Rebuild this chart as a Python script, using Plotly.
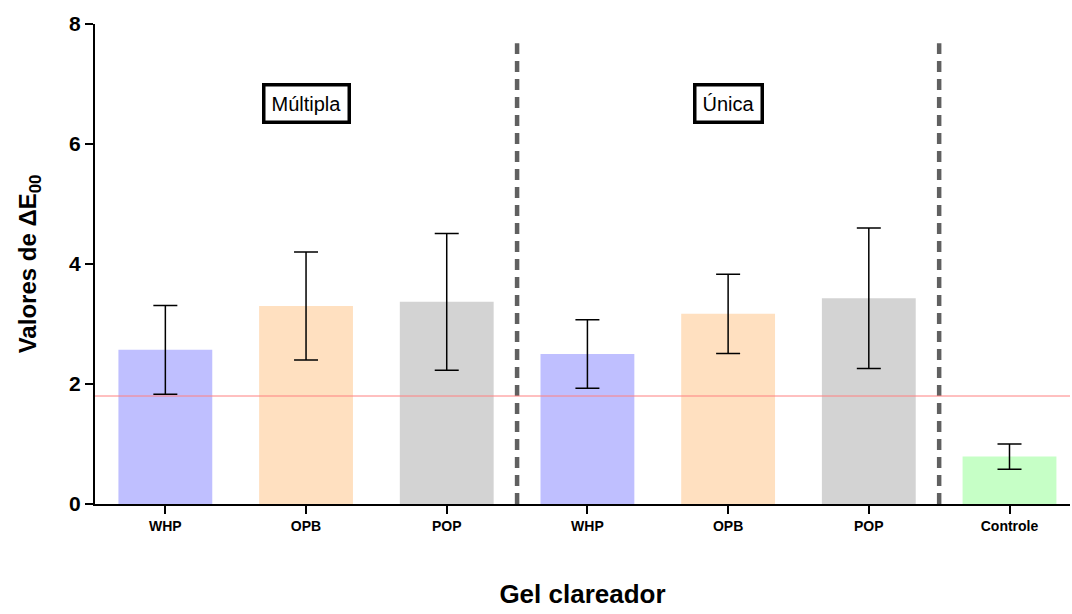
import plotly.graph_objects as go

categories = ["WHP", "OPB", "POP", "WHP ", "OPB ", "POP ", "Controle"]
tick_labels = ["WHP", "OPB", "POP", "WHP", "OPB", "POP", "Controle"]
means = [2.57, 3.30, 3.37, 2.50, 3.17, 3.43, 0.79]
sds = [0.74, 0.90, 1.14, 0.57, 0.66, 1.17, 0.21]
colors = ["#BFBFFF", "#FFE0C0", "#D3D3D3", "#BFBFFF", "#FFE0C0", "#D3D3D3", "#C6FFC6"]
threshold = 1.8
separators = [2.5, 5.5]
group_labels = ["Múltipla", "Única"]
group_centers = [1, 4]

xs = list(range(len(categories)))

fig = go.Figure()
fig.add_trace(go.Bar(
    x=xs, y=means, width=0.667,
    marker=dict(color=colors, line=dict(width=0)),
    error_y=dict(type="data", array=sds, visible=True, color="black", thickness=1.5, width=12),
    showlegend=False,
))

shapes = []
for s in separators:
    shapes.append(dict(type="line", xref="x", yref="y", x0=s, x1=s, y0=0, y1=7.68,
                       line=dict(color="#606060", width=4.5, dash="11px,7px"), layer="above"))
shapes.append(dict(type="line", xref="paper", yref="y", x0=0, x1=1, y0=threshold, y1=threshold,
                   line=dict(color="#FF8080", width=1), layer="above"))

annotations = []
for lab, c in zip(group_labels, group_centers):
    annotations.append(dict(x=c, y=6.67, xref="x", yref="y", text=lab, showarrow=False,
                            font=dict(family="Liberation Sans, Arial", size=20, color="black"),
                            bordercolor="black", borderwidth=3.5, borderpad=6, bgcolor="white"))

fig.update_layout(
    width=1072, height=614,
    margin=dict(l=95, r=2, t=24, b=110),
    paper_bgcolor="white", plot_bgcolor="white",
    font=dict(family="Liberation Sans, Arial", color="black"),
    shapes=shapes, annotations=annotations,
    xaxis=dict(
        range=[-0.5, 6.43], tickmode="array", tickvals=xs, ticktext=tick_labels,
        tickfont=dict(size=14, weight="bold"),
        showline=True, linecolor="black", linewidth=2, ticks="outside", ticklen=8, tickwidth=2,
        tickcolor="black", showgrid=False, zeroline=False,
        title=dict(text="<b>Gel clareador</b>", standoff=52, font=dict(size=26)),
    ),
    yaxis=dict(
        range=[0, 8], tickvals=[0, 2, 4, 6, 8],
        tickfont=dict(size=21, weight="bold"),
        showline=True, linecolor="black", linewidth=2, ticks="outside", ticklen=8, tickwidth=2,
        tickcolor="black", showgrid=False, zeroline=False,
        title=dict(text="<b>Valores de ΔE<sub>00</sub></b>", standoff=26, font=dict(size=24)),
    ),
)

fig.write_html("out.html")
